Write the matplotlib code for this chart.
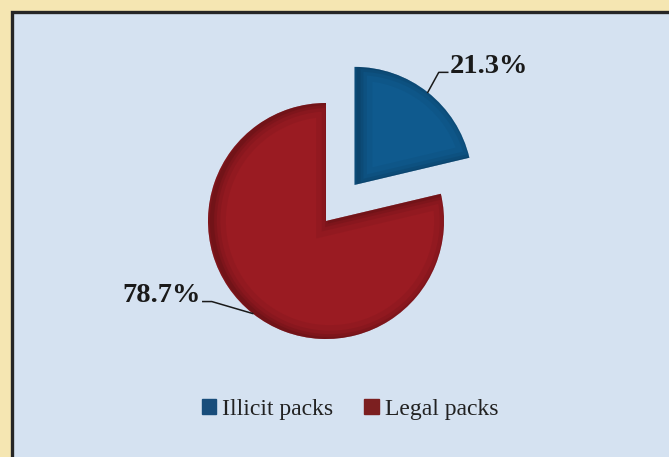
import matplotlib.pyplot as plt
import matplotlib.patches as mpatches
import numpy as np

labels = ['Illicit packs', 'Legal packs']
shares = [21.3, 78.7]
colors = ['#0f5a8e', '#9a1b22']
shade = ['#0a2f4d', '#4a0c10']
legend_colors = ['#184d7b', '#7c1f20']

plt.rcParams['font.family'] = ['Liberation Serif', 'DejaVu Serif']

fig = plt.figure(figsize=(6.69, 4.57), dpi=100)
fig.patch.set_facecolor('#f5e6b2')
ax = fig.add_axes([0, 0, 1, 1])

# panel
ax.add_patch(mpatches.Rectangle((11.5, -5), 670, 450.5, fc='#d5e2f1', ec='#262626', lw=2.4, zorder=0))

center = (326, 236)
radius = 118
# explode is in data units here (0.39 of the radius)
wedges, _ = ax.pie(shares, colors=colors, startangle=90, counterclock=False,
                   explode=[0.39 * radius, 0], center=center, radius=radius, frame=True,
                   wedgeprops=dict(lw=0))
ax.set_xlim(0, 669)
ax.set_ylim(0, 457)
ax.axis('off')

# inner shading on the wedges, heavier on the left side
for w, sc in zip(wedges, shade):
    cx, cy = w.center
    for lw, a in [(20, 0.09), (12, 0.12), (7, 0.16), (3, 0.22)]:
        p = mpatches.Wedge((cx + 4, cy), w.r, w.theta1, w.theta2, fc='none', ec=sc, lw=lw, alpha=a, zorder=3)
        p.set_clip_path(w)
        ax.add_patch(p)

# labels with leader lines
label_offsets = [((11, 20), (20, 20), 'left'), ((-41, 12), (-50, 12), 'right')]
for w, s, (elbow, tip, ha) in zip(wedges, shares, label_offsets):
    mid = np.deg2rad((w.theta1 + w.theta2) / 2)
    ax_x = w.center[0] + w.r * np.cos(mid)
    ax_y = w.center[1] + w.r * np.sin(mid)
    ex, ey = ax_x + elbow[0], ax_y + elbow[1]
    tx, ty = ax_x + tip[0], ax_y + tip[1]
    ax.plot([ax_x, ex, tx], [ax_y, ey, ty], color='#1a1a1a', lw=1.1, zorder=4)
    dx = 2 if ha == 'left' else -2
    ax.text(tx + dx, ty + 6, '%.1f%%' % s, ha=ha, va='center', fontsize=20.5,
            fontweight='bold', color='#1a1a1a', zorder=4)

handles = [mpatches.Patch(color=c, label=l) for c, l in zip(legend_colors, labels)]
fig.legend(handles=handles, loc='center', bbox_to_anchor=(350 / 669, 1 - 409 / 457), ncol=2,
           frameon=False, fontsize=17, handlelength=0.62, handleheight=0.62,
           handletextpad=0.25, columnspacing=1.3, labelcolor='#222222')

fig.savefig('out.png', dpi=100, facecolor=fig.get_facecolor())
